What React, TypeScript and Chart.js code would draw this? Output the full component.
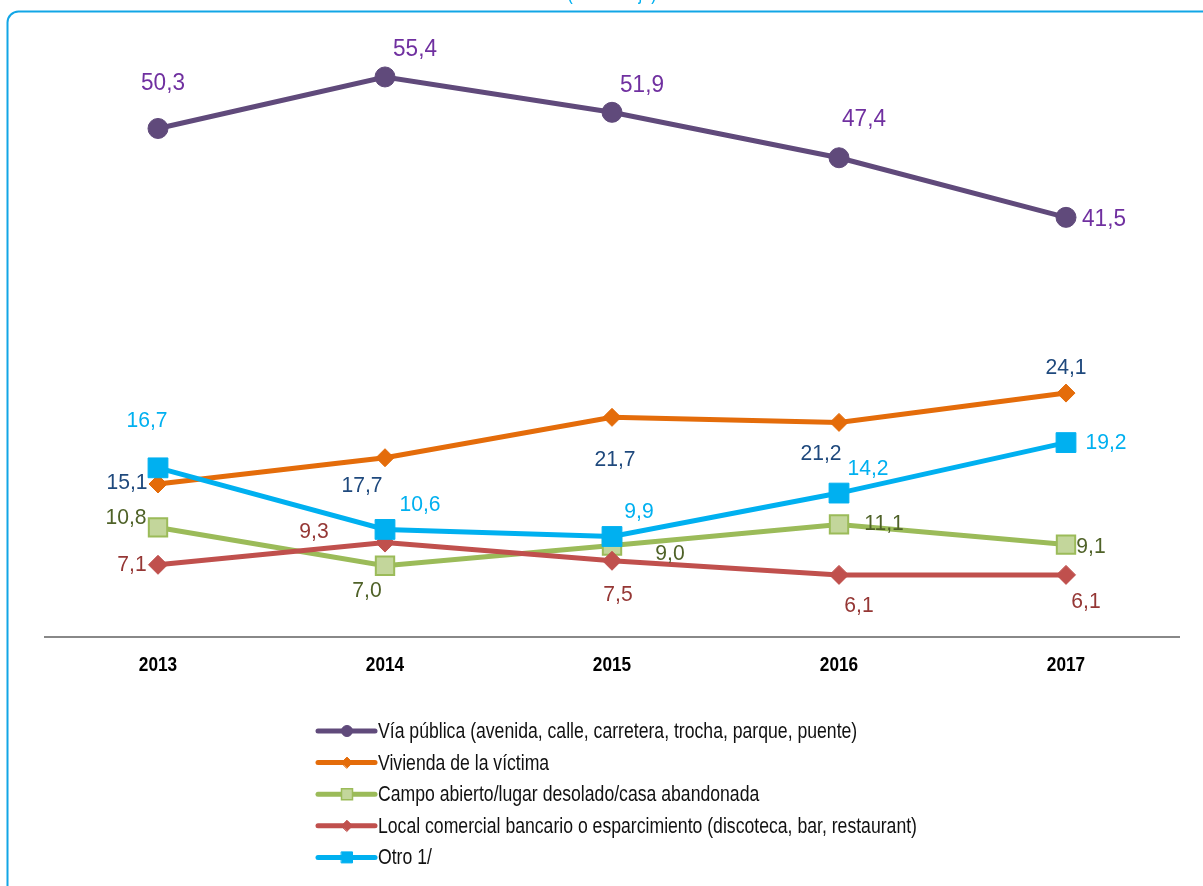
import { useEffect, useRef } from "react";
import { Chart, registerables } from "chart.js";

Chart.register(...registerables);

// ---- Data ----
const years = ["2013", "2014", "2015", "2016", "2017"];
const viaPublica = [50.3, 55.4, 51.9, 47.4, 41.5];
const vivienda = [15.1, 17.7, 21.7, 21.2, 24.1];
const campoAbierto = [10.8, 7.0, 9.0, 11.1, 9.1];
const localComercial = [7.1, 9.3, 7.5, 6.1, 6.1];
const otro = [16.7, 10.6, 9.9, 14.2, 19.2];
const seriesNames = [
  "Vía pública (avenida, calle, carretera, trocha, parque, puente)",
  "Vivienda de la víctima",
  "Campo abierto/lugar desolado/casa abandonada",
  "Local comercial bancario o esparcimiento (discoteca, bar, restaurant)",
  "Otro 1/",
];
const titleText = "(Porcentaje)";
const yMin = 0;
const yMax = 60;

// ---- Styles ----
const FONT = "'Liberation Sans', Arial, sans-serif";
const NARROW = 0.82; // horizontal squeeze to imitate a narrow face
const LABEL_SQUEEZE = 0.96;

type Style = {
  line: string;
  fill: string;
  border: string;
  borderW: number;
  labelColor: string;
  pointStyle: string;
  radius: number;
  labelSize: number;
  offsets: number[][];
  order: number;
};

const styles: Style[] = [
  {
    line: "#604A7B", fill: "#604A7B", border: "#604A7B", borderW: 1, labelColor: "#7030A0",
    pointStyle: "circle", radius: 10, labelSize: 23.5, order: 0,
    offsets: [[5, -45], [30, -27], [30, -27], [25, -38], [38, 2]],
  },
  {
    line: "#E46C0A", fill: "#E46C0A", border: "#E46C0A", borderW: 1, labelColor: "#1F497D",
    pointStyle: "rectRot", radius: 9, labelSize: 22, order: 2,
    offsets: [[-31, -1], [-23, 28], [3, 43], [-18, 32], [0, -25]],
  },
  {
    line: "#9BBB59", fill: "#C3D69B", border: "#9BBB59", borderW: 2, labelColor: "#4F6228",
    pointStyle: "rect", radius: 13, labelSize: 22, order: 4,
    offsets: [[-32, -9], [-18, 25], [58, 8], [45, 0], [25, 2]],
  },
  {
    line: "#C0504D", fill: "#C0504D", border: "#C0504D", borderW: 1, labelColor: "#953735",
    pointStyle: "rectRot", radius: 9.5, labelSize: 22, order: 3,
    offsets: [[-26, 0], [-71, -11], [6, 34], [20, 31], [20, 27]],
  },
  {
    line: "#00B0F0", fill: "#00B0F0", border: "#00B0F0", borderW: 1, labelColor: "#00B0F0",
    pointStyle: "rect", radius: 14, labelSize: 22, order: 1,
    offsets: [[-11, -47], [35, -25], [27, -25], [29, -24], [40, 0]],
  },
];

const seriesData = [viaPublica, vivienda, campoAbierto, localComercial, otro];

const fmt = (v: number) => v.toFixed(1).replace(".", ",");

function squeezedText(ctx: CanvasRenderingContext2D, text: string, x: number, y: number, sx: number) {
  ctx.save();
  ctx.translate(x, y);
  ctx.scale(sx, 1);
  ctx.fillText(text, 0, 0);
  ctx.restore();
}

const decorPlugin = {
  id: "decor",
  beforeDraw(chart: any) {
    const ctx = chart.ctx as CanvasRenderingContext2D;
    ctx.save();
    ctx.fillStyle = "#ffffff";
    ctx.fillRect(0, 0, chart.width, chart.height);
    ctx.strokeStyle = "#12A6E6";
    ctx.lineWidth = 2;
    ctx.beginPath();
    (ctx as any).roundRect(7.5, 11.5, 1400, 1000, 11);
    ctx.stroke();
    ctx.fillStyle = "#00B0F0";
    ctx.font = `20px ${FONT}`;
    ctx.textAlign = "center";
    ctx.textBaseline = "alphabetic";
    squeezedText(ctx, titleText, 612, -0.5, NARROW);
    ctx.restore();
  },
  afterDatasetsDraw(chart: any) {
    const ctx = chart.ctx as CanvasRenderingContext2D;
    ctx.save();
    ctx.textAlign = "center";
    ctx.textBaseline = "middle";
    chart.data.datasets.forEach((ds: any, di: number) => {
      const st = styles[di];
      const meta = chart.getDatasetMeta(di);
      ctx.fillStyle = st.labelColor;
      ctx.font = `${st.labelSize}px ${FONT}`;
      meta.data.forEach((pt: any, i: number) => {
        const off = st.offsets[i];
        squeezedText(ctx, fmt(ds.data[i]), pt.x + off[0], pt.y + off[1], LABEL_SQUEEZE);
      });
    });
    ctx.restore();
  },
  afterDraw(chart: any) {
    const ctx = chart.ctx as CanvasRenderingContext2D;
    ctx.save();
    // x-axis category labels
    const xs = chart.scales.x;
    ctx.fillStyle = "#000000";
    ctx.font = `bold 21px ${FONT}`;
    ctx.textAlign = "center";
    ctx.textBaseline = "middle";
    chart.data.labels.forEach((lab: string, i: number) => {
      squeezedText(ctx, lab, xs.getPixelForTick(i), xs.top + 28.5, NARROW);
    });

    // legend
    const x0 = 318;
    const x1 = 375;
    const xm = 347;
    const yStart = 731;
    const step = 31.6;
    chart.data.datasets.forEach((ds: any, di: number) => {
      const st = styles[di];
      const y = yStart + di * step;
      ctx.strokeStyle = st.line;
      ctx.lineWidth = 5;
      ctx.lineCap = "round";
      ctx.beginPath();
      ctx.moveTo(x0, y);
      ctx.lineTo(x1, y);
      ctx.stroke();
      ctx.fillStyle = st.fill;
      ctx.strokeStyle = st.border;
      ctx.lineWidth = st.borderW > 1 ? 1.5 : 1;
      ctx.beginPath();
      const r = 5.5;
      if (st.pointStyle === "circle") {
        ctx.arc(xm, y, r, 0, Math.PI * 2);
      } else if (st.pointStyle === "rectRot") {
        ctx.moveTo(xm - r, y);
        ctx.lineTo(xm, y - r);
        ctx.lineTo(xm + r, y);
        ctx.lineTo(xm, y + r);
        ctx.closePath();
      } else {
        ctx.rect(xm - r, y - r, 2 * r, 2 * r);
      }
      ctx.fill();
      ctx.stroke();
      ctx.fillStyle = "#111111";
      ctx.font = `21.5px ${FONT}`;
      ctx.textAlign = "left";
      ctx.textBaseline = "middle";
      squeezedText(ctx, ds.label, 378, y + 1, NARROW);
    });
    ctx.restore();
  },
};

export default function App() {
  const canvasRef = useRef<HTMLCanvasElement | null>(null);

  useEffect(() => {
    if (!canvasRef.current) return;
    const chart = new Chart(canvasRef.current, {
      type: "line",
      data: {
        labels: years,
        datasets: seriesData.map((d, i) => ({
          label: seriesNames[i],
          data: d,
          borderColor: styles[i].line,
          backgroundColor: styles[i].fill,
          borderWidth: 5,
          tension: 0,
          pointStyle: styles[i].pointStyle as any,
          pointRadius: styles[i].radius,
          pointHoverRadius: styles[i].radius,
          pointBackgroundColor: styles[i].fill,
          pointBorderColor: styles[i].border,
          pointBorderWidth: styles[i].borderW,
          order: styles[i].order,
          fill: false,
        })),
      },
      options: {
        responsive: false,
        animation: false,
        devicePixelRatio: 1,
        layout: { padding: { left: 44.5, right: 23.5, top: 30.5, bottom: 0 } },
        plugins: {
          legend: { display: false },
          tooltip: { enabled: false },
          title: { display: false },
        },
        scales: {
          x: {
            type: "category",
            offset: true,
            grid: { display: false, drawTicks: false },
            border: { display: true, color: "#888888", width: 2 },
            ticks: { display: false },
            afterFit: (scale: any) => {
              scale.height = 249.5;
            },
          },
          y: {
            display: false,
            min: yMin,
            max: yMax,
          },
        },
      },
      plugins: [decorPlugin],
    });
    return () => chart.destroy();
  }, []);

  return (
    <div style={{ position: "absolute", left: 0, top: 0, width: 1203, height: 886, background: "#fff" }}>
      <canvas ref={canvasRef} width={1203} height={886} style={{ display: "block" }} />
    </div>
  );
}
